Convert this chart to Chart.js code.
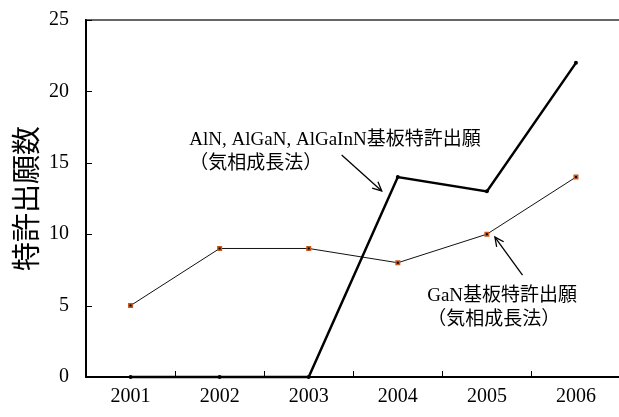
<!DOCTYPE html>
<html>
<head>
<meta charset="utf-8">
<script src="https://cdn.jsdelivr.net/npm/chart.js@4.4.0/dist/chart.umd.min.js"></script>
<style>
    html, body { margin: 0; padding: 0; background: #fff; overflow: hidden; }
    .chart-box { width: 626px; height: 417px; }
</style>
</head>
<body>
<div class="chart-box"><canvas id="patentChart"></canvas></div>
<script>
// ---------- data ----------
const years = ['2001', '2002', '2003', '2004', '2005', '2006'];
const alnValues = [0, 0, 0, 14, 13, 22];
const ganValues = [5, 9, 9, 8, 10, 14];
const yTicks = [0, 5, 10, 15, 20, 25];

const serif = '"Liberation Serif", "Noto Sans CJK JP", serif';

// annotation texts and arrows, positioned in data units (category index, value)
const notes = [
    { lines: ['AlN, AlGaN, AlGaInN基板特許出願', '（気相成長法）'], at: [0.66, 16.6], arrow: [[2.37, 15.55], [2.82, 13.03]] },
    { lines: ['GaN基板特許出願', '（気相成長法）'], at: [3.33, 5.7], arrow: [[4.40, 7.14], [4.09, 9.80]] }
];

// ------------- frame, inner ticks, notes --------------
const framePlugin = {
    id: 'frame',
    afterDatasetsDraw(chart) {
        const ctx = chart.ctx;
        const area = chart.chartArea;
        const x = chart.scales.x;
        const y = chart.scales.y;
        ctx.save();
        ctx.strokeStyle = '#333';
        ctx.lineWidth = 1.5;
        ctx.beginPath();
        ctx.moveTo(area.left, area.top);
        ctx.lineTo(area.right, area.top);
        ctx.stroke();

        ctx.strokeStyle = '#000';
        ctx.lineWidth = 1;
        for (let i = 0; i < years.length; i++) {
            const px = Math.round(x.getPixelForValue(i) + (x.getPixelForValue(1) - x.getPixelForValue(0)) / 2) + 0.5;
            ctx.beginPath();
            ctx.moveTo(px, area.bottom);
            ctx.lineTo(px, area.bottom - 6);
            ctx.stroke();
        }
        yTicks.forEach(v => {
            const py = Math.round(y.getPixelForValue(v)) + 0.5;
            ctx.beginPath();
            ctx.moveTo(area.left, py);
            ctx.lineTo(area.left + 6, py);
            ctx.stroke();
        });

        ctx.fillStyle = '#000';
        ctx.font = '19px ' + serif;
        ctx.textBaseline = 'middle';
        ctx.textAlign = 'left';
        notes.forEach(n => {
            const tx = x.getPixelForValue(n.at[0]);
            const ty = y.getPixelForValue(n.at[1]);
            n.lines.forEach((t, k) => ctx.fillText(t, tx, ty + k * 24));

            const x1 = x.getPixelForValue(n.arrow[0][0]);
            const y1 = y.getPixelForValue(n.arrow[0][1]);
            const x2 = x.getPixelForValue(n.arrow[1][0]);
            const y2 = y.getPixelForValue(n.arrow[1][1]);
            ctx.lineWidth = 1.3;
            ctx.beginPath();
            ctx.moveTo(x1, y1);
            ctx.lineTo(x2, y2);
            ctx.stroke();
            const a = Math.atan2(y2 - y1, x2 - x1);
            ctx.beginPath();
            ctx.moveTo(x2 - 10 * Math.cos(a - 0.45), y2 - 10 * Math.sin(a - 0.45));
            ctx.lineTo(x2, y2);
            ctx.lineTo(x2 - 10 * Math.cos(a + 0.45), y2 - 10 * Math.sin(a + 0.45));
            ctx.stroke();
        });
        ctx.restore();
    }
};

const patentCtx = document.getElementById('patentChart').getContext('2d');
new Chart(patentCtx, {
    type: 'line',
    data: {
        labels: years,
        datasets: [{
            label: 'AlN, AlGaN, AlGaInN',
            data: alnValues,
            borderColor: '#000',
            borderWidth: 2.5,
            backgroundColor: '#000',
            pointRadius: 2,
            pointBorderWidth: 0,
            tension: 0,
            clip: false
        }, {
            label: 'GaN',
            data: ganValues,
            borderColor: '#111',
            borderWidth: 1,
            pointStyle: 'rect',
            pointRadius: 2.5,
            pointBackgroundColor: '#000',
            pointBorderColor: '#c8581c',
            pointBorderWidth: 1.5,
            tension: 0,
            clip: false
        }]
    },
    options: {
        responsive: true,
        maintainAspectRatio: false,
        animation: false,
        layout: { padding: { top: 20, right: 3, left: 0, bottom: 0 } },
        plugins: {
            legend: { display: false },
            tooltip: { enabled: false }
        },
        scales: {
            x: {
                offset: true,
                grid: { display: false, drawTicks: false },
                border: { display: true, color: '#000', width: 2 },
                ticks: { color: '#000', padding: 8, font: { family: serif, size: 20 }, maxRotation: 0 },
                afterFit: s => { s.height = 40; s.paddingLeft = 0; s.paddingRight = 0; }
            },
            y: {
                min: 0,
                max: 25,
                grid: { display: false, drawTicks: false },
                border: { display: true, color: '#000', width: 2 },
                ticks: { stepSize: 5, color: '#000', padding: 17, font: { family: serif, size: 20 } },
                title: {
                    display: true,
                    text: '特許出願数',
                    color: '#000',
                    padding: { top: 9, bottom: 0 },
                    font: { family: '"Noto Sans CJK JP", sans-serif', size: 29, weight: 'normal' }
                },
                afterFit: s => { s.width = 86; s.paddingTop = 0; s.paddingBottom = 0; }
            }
        }
    },
    plugins: [framePlugin]
});
</script>
</body>
</html>
